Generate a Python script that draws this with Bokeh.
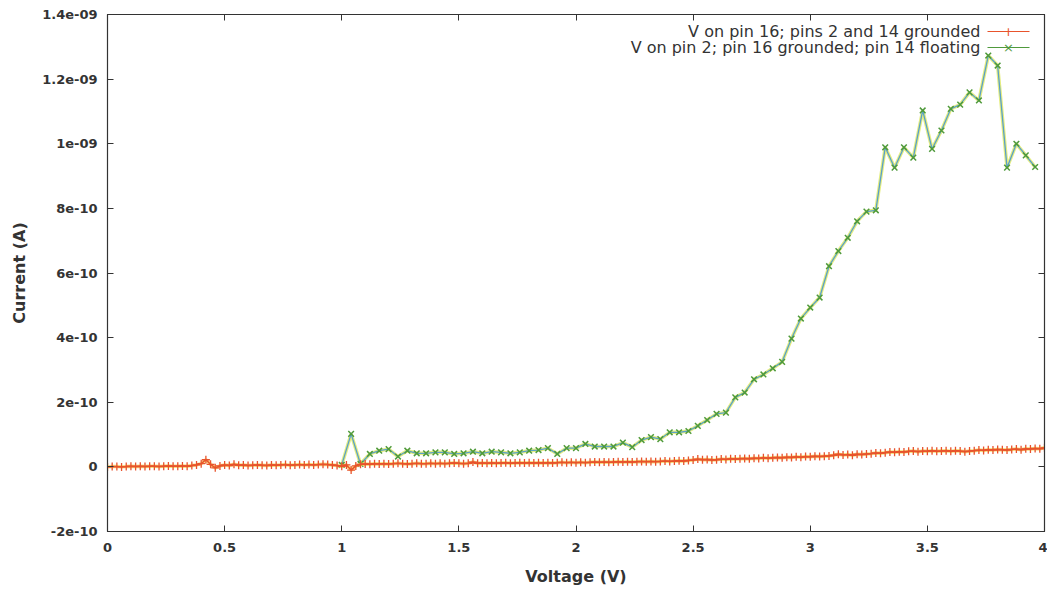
import numpy as np
from bokeh.plotting import figure
from bokeh.models import Range1d, FixedTicker, LinearAxis, CustomJSTickFormatter, Label, BoxAnnotation
from bokeh.embed import file_html
from bokeh.resources import INLINE

# ---------------- data ----------------
# Series 1: V on pin 16; pins 2 and 14 grounded (sweep 0..4 V, 0.02 V step), current in units of 1e-11 A
red_v = np.round(np.arange(0, 201) * 0.02, 2)
red_i_e11 = [
    0.0, 0.1, 0.1, 0.0, 0.1, 0.2, 0.1, 0.2, 0.1, 0.2, 0.2, 0.1, 0.2, 0.3, 0.2, 0.2, 0.3, 0.2, 0.4, 0.6, 1.0,
    2.2, 0.8, -0.3, 0.3, 0.6, 0.4, 0.8, 0.5, 0.6, 0.4, 0.5, 0.6, 0.5, 0.4, 0.6, 0.5, 0.6, 0.7, 0.5, 0.6,
    0.7, 0.6, 0.7, 0.6, 0.7, 0.8, 0.7, 0.6, 0.4, 0.2, 0.6, -1.0, 0.3, 0.8,
    0.9, 0.8, 1.0, 0.9, 1.0, 0.9, 1.0, 1.1, 1.0, 0.9, 1.0, 1.1, 1.0, 1.0, 1.1, 1.0, 1.1, 1.0, 1.1, 1.2,
    1.1, 1.0, 1.1, 1.5, 1.1, 1.2, 1.1, 1.2, 1.1, 1.2, 1.3, 1.1, 1.2, 1.3, 1.2, 1.3, 1.2, 1.3, 1.2, 1.3,
    1.2, 1.3, 1.4, 1.3, 1.4, 1.3,
    1.4, 1.3, 1.4, 1.5, 1.4, 1.5, 1.4, 1.5, 1.6, 1.5, 1.6, 1.5, 1.6, 1.7, 1.6, 1.7, 1.6, 1.7, 1.8, 1.7,
    1.8, 1.9, 1.8, 2.0, 2.1,
    2.4, 2.2, 2.3, 2.1, 2.2, 2.4, 2.3, 2.5, 2.4, 2.5, 2.6, 2.5, 2.7, 2.6, 2.8, 2.7, 2.8, 2.9, 2.8, 3.0,
    2.9, 3.1, 3.0, 3.2, 3.1,
    3.3, 3.2, 3.3, 3.4, 3.6, 3.9, 3.7, 3.8, 3.6, 3.9, 3.8, 4.0, 4.1, 4.3, 4.2, 4.4, 4.6, 4.5, 4.7, 4.6,
    4.8, 4.9, 4.7, 4.9, 4.8,
    5.0, 4.8, 4.9, 5.0, 4.8, 5.0, 4.9, 4.7, 4.9, 5.0, 5.2, 5.1, 5.3, 5.2, 5.4, 5.3, 5.2, 5.4, 5.5, 5.3,
    5.6, 5.5, 5.7, 5.6, 5.9,
]
red_i = np.array(red_i_e11) * 1e-11

# Series 2: V on pin 2; pin 16 grounded; pin 14 floating (sweep 1..3.96 V, 0.04 V step), current in 1e-9 A
green_v = np.round(1.0 + np.arange(0, 75) * 0.04, 2)
green_i_e9 = [
    0.006, 0.102, 0.009, 0.040, 0.050, 0.055, 0.032, 0.050, 0.042, 0.042,
    0.045, 0.045, 0.040, 0.042, 0.047, 0.042, 0.047, 0.045, 0.042, 0.045,
    0.050, 0.052, 0.058, 0.040, 0.058, 0.058, 0.071, 0.063, 0.063, 0.063,
    0.075, 0.061, 0.083, 0.092, 0.086, 0.107, 0.107, 0.111, 0.127, 0.145,
    0.164, 0.168, 0.215, 0.230, 0.271, 0.286, 0.305, 0.325, 0.397, 0.459,
    0.493, 0.524, 0.621, 0.668, 0.709, 0.760, 0.790, 0.794, 0.989, 0.926,
    0.989, 0.957, 1.103, 0.984, 1.041, 1.108, 1.121, 1.159, 1.134, 1.273,
    1.242, 0.926, 1.000, 0.964, 0.928,
]
green_i = np.array(green_i_e9) * 1e-9

x_ticks = [0, 0.5, 1, 1.5, 2, 2.5, 3, 3.5, 4]
y_ticks = [-2e-10, 0, 2e-10, 4e-10, 6e-10, 8e-10, 1e-9, 1.2e-9, 1.4e-9]
y_labels = ["-2e-10", "0", "2e-10", "4e-10", "6e-10", "8e-10", "1e-09", "1.2e-09", "1.4e-09"]
legend_labels = ["V on pin 16; pins 2 and 14 grounded", "V on pin 2; pin 16 grounded; pin 14 floating"]
x_title = "Voltage (V)"
y_title = "Current (A)"

RED = "#e8532c"
GREEN = "#4f9a3c"
TXT = "#333333"
FONT = "DejaVu Sans"

# ---------------- figure ----------------
p = figure(width=1047, height=593, output_backend="svg", toolbar_location=None,
           x_range=Range1d(0, 4), y_range=Range1d(-2e-10, 1.4e-9),
           min_border_left=107, min_border_right=3, min_border_top=14, min_border_bottom=62)
p.background_fill_color = "white"
p.border_fill_color = "white"
p.outline_line_color = "#333333"
p.outline_line_width = 1.2
p.xgrid.visible = False
p.ygrid.visible = False

fmt = CustomJSTickFormatter(args=dict(tvals=y_ticks, tlabels=y_labels), code="""
    let best = 0, bd = Infinity;
    for (let i = 0; i < tvals.length; i++) {
        const d = Math.abs(tvals[i] - tick);
        if (d < bd) { bd = d; best = i; }
    }
    return tlabels[best];
""")

for ax in [p.xaxis[0], p.yaxis[0]]:
    ax.major_tick_in = 6
    ax.major_tick_out = 0
    ax.minor_tick_line_color = None
    ax.axis_line_color = "#333333"
    ax.major_tick_line_color = "#333333"
    ax.major_label_text_font = FONT
    ax.major_label_text_font_style = "bold"
    ax.major_label_text_font_size = "13px"
    ax.major_label_text_color = TXT
    ax.axis_label_text_font = FONT
    ax.axis_label_text_font_style = "bold"
    ax.axis_label_text_font_size = "16px"
    ax.axis_label_text_color = TXT

p.xaxis.ticker = FixedTicker(ticks=x_ticks)
p.yaxis.ticker = FixedTicker(ticks=y_ticks)
p.yaxis.formatter = fmt
p.xaxis.axis_label = x_title
p.yaxis.axis_label = y_title
p.xaxis.major_label_standoff = 11
p.yaxis.major_label_standoff = 10
p.xaxis.axis_label_standoff = 12
p.yaxis.axis_label_standoff = 10

# mirrored tick marks on top and right (no labels)
top_ax = LinearAxis(ticker=FixedTicker(ticks=x_ticks), major_tick_in=6, major_tick_out=0,
                    minor_tick_line_color=None, major_label_text_color=None,
                    major_label_text_font_size="1px",
                    major_label_standoff=0, axis_line_color="#333333", major_tick_line_color="#333333")
right_ax = LinearAxis(ticker=FixedTicker(ticks=y_ticks), major_tick_in=6, major_tick_out=0,
                      minor_tick_line_color=None, major_label_text_color=None,
                      major_label_text_font_size="1px",
                      major_label_standoff=0, axis_line_color="#333333", major_tick_line_color="#333333")
p.add_layout(top_ax, "above")
p.add_layout(right_ax, "right")

# ---------------- series ----------------
p.line(green_v, green_i, line_color="#dfe860", line_width=3.5, line_alpha=0.8)
p.line(green_v, green_i, line_color="#5aa0c8", line_width=1.3)
p.scatter(green_v, green_i, marker="x", size=8, line_color=GREEN, line_width=1.5)

p.line(red_v, red_i, line_color="#f4d04a", line_width=3.5, line_alpha=0.7)
p.line(red_v, red_i, line_color=RED, line_width=1.5)
p.scatter(red_v, red_i, marker="cross", size=8, line_color=RED, line_width=1.3)

# ---------------- legend (gnuplot style: text, then sample on the right) ----------------
# screen units here are relative to the plot frame (x from left, y up from the bottom)
leg_rows = [(legend_labels[0], RED, "+"), (legend_labels[1], GREEN, "\u00d7")]
for i, (txt, col, mk) in enumerate(leg_rows):
    sy = 500 - i * 16
    p.add_layout(Label(x=873, y=sy, x_units="screen", y_units="screen", text=txt,
                       text_align="right", text_baseline="middle", text_font=FONT,
                       text_font_size="16px", text_color=TXT))
    p.add_layout(BoxAnnotation(left=880, right=922, bottom=sy - 0.6, top=sy + 0.6,
                               left_units="screen", right_units="screen",
                               bottom_units="screen", top_units="screen",
                               fill_color=col, fill_alpha=1, line_color=None))
    p.add_layout(Label(x=901, y=sy, x_units="screen", y_units="screen", text=mk,
                       text_align="center", text_baseline="middle", text_font=FONT,
                       text_font_size="13px", text_color=col))

open("out.html", "w").write(file_html(p, INLINE))
